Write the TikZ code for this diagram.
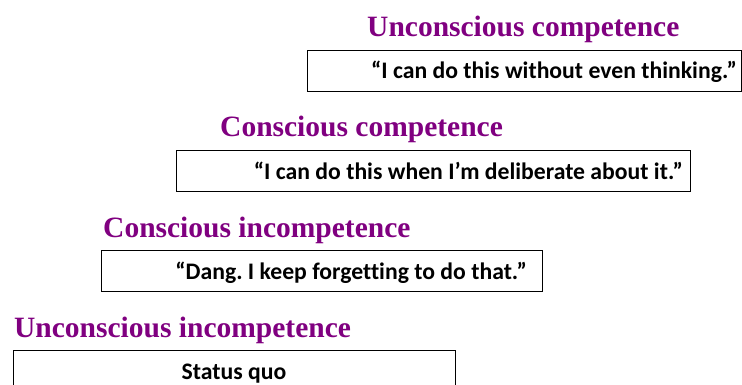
\documentclass[tikz,border=0pt]{standalone}
\usepackage{fontspec}
\setmainfont{Liberation Serif}
\newfontfamily\quotefont[Ligatures=NoCommon]{Carlito}
\usetikzlibrary{positioning}
\definecolor{stagepurple}{RGB}{128,0,128}
\frenchspacing
\tikzset{
stagetitle/.style={font=\fontsize{29.5}{31}\selectfont\bfseries,text=stagepurple,inner sep=0pt,anchor=base west},
stagebox/.style={draw,line width=0.8pt,anchor=north west,inner sep=0pt,minimum height=41},
saying/.style={font=\quotefont\bfseries\fontsize{23.7}{25}\selectfont,inner sep=0pt}
}
\begin{document}
\begin{tikzpicture}[x=1pt,y=-1pt]
\useasboundingbox (0,0) rectangle (742,385);
% unconscious competence
\node[stagetitle] (ucTitle) at (367,37) {Unconscious competence};
\node[stagebox,minimum width=434] (ucBox) at (307,50) {};
\node[saying,anchor=base east] (ucSay) at (737,79) {“I can do this without even thinking.”};
% conscious competence
\node[stagetitle] (ccTitle) at (220,137) {Conscious competence};
\node[stagebox,minimum width=514] (ccBox) at (176,150) {};
\node[saying,anchor=base east] (ccSay) at (683,179) {“I can do this when I’m deliberate about it.”};
% conscious incompetence
\node[stagetitle] (ciTitle) at (103,237) {Conscious incompetence};
\node[stagebox,minimum width=441] (ciBox) at (101,250) {};
\node[saying,anchor=base east] (ciSay) at (527,279) {“Dang. I keep forgetting to do that.”};
% unconscious incompetence
\node[stagetitle] (uiTitle) at (14,337) {Unconscious incompetence};
\node[stagebox,minimum width=442] (uiBox) at (13,350) {};
\node[saying,anchor=base] (uiSay) at (234,379) {Status quo};
\end{tikzpicture}
\end{document}
